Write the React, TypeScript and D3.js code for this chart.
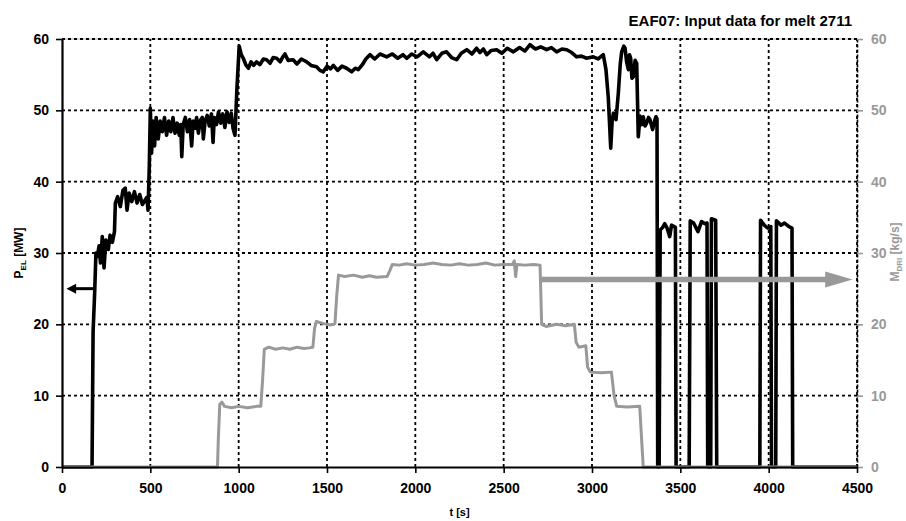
import * as d3 from 'd3';
import React, { useEffect, useRef } from 'react';

// electric power P_EL [MW] over time t [s]
const pelTime = [0, 170, 176, 185, 192, 200, 210, 218, 228, 238, 248, 262, 272, 285, 297, 302, 315, 330, 345, 358, 368, 380, 395, 410, 425, 440, 455, 470, 480, 487, 494,
  500, 507, 515, 524, 533, 545, 556, 568, 580, 592, 604, 616, 628, 640, 652, 664, 672, 678, 686, 698, 710, 722, 734, 742, 752, 762, 772, 784, 794, 800, 810, 822, 834, 846, 855, 862, 874, 886, 898, 910, 922, 934, 946, 958, 968, 979, 985, 990,
  1003, 1015, 1026, 1040, 1055, 1070, 1085, 1101, 1120, 1140, 1158, 1178, 1195, 1215, 1235, 1250, 1262, 1280, 1308, 1330, 1355, 1385, 1410, 1441, 1460, 1479, 1500, 1520, 1536, 1560, 1585, 1611, 1640, 1660, 1677, 1700, 1720, 1743, 1770, 1800, 1838, 1870, 1900, 1930, 1951, 1980,
  2010, 2045, 2080, 2100, 2121, 2150, 2177, 2205, 2234, 2260, 2291, 2320, 2347, 2366, 2385, 2404, 2430, 2460, 2490, 2520, 2555, 2590, 2620, 2649, 2680, 2710, 2743, 2770, 2800, 2830, 2857, 2885, 2913, 2940, 2970,
  3007, 3035, 3064, 3079, 3092, 3106, 3114, 3121, 3136, 3149, 3160, 3168, 3180, 3187, 3196, 3206, 3212, 3219, 3226, 3234, 3244, 3253, 3262, 3272, 3282, 3290, 3300, 3309, 3320, 3328, 3343, 3355, 3362, 3368,
  3372, 3380, 3386, 3400, 3412, 3425, 3440, 3450, 3465, 3472, 3476, 3550, 3556, 3575, 3600, 3620, 3640, 3651, 3655, 3672, 3676, 3700, 3706,
  3950, 3954, 3975, 3995, 4012, 4016, 4040, 4044, 4070, 4090, 4115, 4132, 4136, 4500];
const pelValue = [0, 0, 19, 24.5, 30, 29.5, 31, 28.6, 32.3, 27.9, 31.8, 30.5, 32.5, 31.5, 33, 37, 37.9, 36.5, 38.8, 39.1, 36, 38.4, 37.2, 38.6, 37, 38.2, 36.8, 37.4, 37.8, 36, 42,
  50.3, 44, 48.5, 45, 49, 46, 48.5, 47, 49, 46.5, 48.5, 47, 49, 46.8, 48.2, 46.5, 48, 43.5, 48, 49, 47, 48.7, 45, 48.5, 47.5, 49, 46.8, 48.6, 49, 46, 48.5, 49.3, 47.8, 49.5, 45.5, 49, 48, 49.8, 48.2, 49.5, 47.6, 49.8, 48.3, 49.6, 47.5, 46.5, 50, 53,
  59, 57.8, 57.3, 56.4, 55.9, 56.8, 56.3, 56.8, 56.4, 57.2, 57.1, 56.6, 57.4, 57.3, 56.8, 57.5, 57.9, 57, 57.1, 56.5, 57.2, 56.8, 56.3, 56.1, 55.6, 55.4, 56.2, 55.8, 56.3, 55.6, 56.2, 55.9, 55.4, 55.9, 55.7, 56.4, 57.2, 57.8, 57.2, 57.9, 57.5, 57.9, 57.3, 57.8, 57.3, 57.9,
  57.5, 58.2, 57.5, 58, 57.1, 58, 58.2, 57.4, 57.1, 58, 58.5, 57.9, 58.7, 58.1, 58.6, 57.8, 58.4, 58.5, 58, 58.7, 58.2, 58.8, 58.3, 59.2, 58.6, 58.9, 58.5, 58.8, 58.2, 58.6, 58.5, 58.1, 57.5, 57.6, 57.3,
  57.5, 57.2, 57.8, 55.7, 51.9, 44.7, 48.5, 49.6, 48.7, 52.4, 56.5, 58.2, 59, 58.7, 56.8, 55.7, 57.8, 57.3, 54.5, 54.7, 57, 56.6, 46.3, 49.2, 48, 49.1, 47.8, 48.2, 49, 48.7, 47.3, 48.6, 49.1, 48.8,
  0, 0, 33.2, 33.6, 34.1, 33.5, 32.3, 33.9, 33.7, 33.6, 0, 0, 34.5, 34.2, 33, 34.4, 34.1, 34.2, 0, 0, 34.8, 34.6, 0,
  0, 34.6, 33.9, 33.5, 33.7, 0, 0, 34.5, 33.9, 34.2, 33.7, 33.5, 0, 0];

// DRI feed rate M_DRI [kg/s] over time t [s]
const driTime = [0, 880, 885, 893, 905, 920, 960, 1000, 1050, 1100, 1125, 1135, 1145, 1170, 1210, 1250, 1290, 1330, 1370, 1400, 1420, 1430, 1440, 1480, 1520, 1545, 1555, 1565, 1600, 1650, 1700, 1740, 1780, 1840, 1855, 1870,
  1910, 1950, 2000, 2050, 2100, 2150, 2200, 2250, 2300, 2350, 2400, 2450, 2500, 2550, 2560, 2568, 2575, 2620, 2670, 2706, 2715, 2740, 2800, 2850, 2900, 2910, 2925, 2965, 2975, 2990, 3050, 3110, 3125, 3140, 3200, 3270, 3290, 4500];
const driValue = [0, 0, 4, 8.8, 9.1, 8.5, 8.3, 8.5, 8.3, 8.5, 8.5, 12, 16.5, 16.8, 16.5, 16.7, 16.5, 16.8, 16.6, 16.7, 16.8, 19.5, 20.4, 20.1, 19.9, 20.1, 24, 26.9, 26.7, 26.9, 26.6, 26.8, 26.6, 26.7, 27.5, 28.4,
  28.3, 28.5, 28.3, 28.4, 28.6, 28.4, 28.3, 28.5, 28.3, 28.4, 28.6, 28.3, 28.4, 28.4, 28.9, 26.7, 28.4, 28.3, 28.4, 28.3, 20, 19.7, 20, 19.8, 20, 17.5, 16.8, 17, 14, 13.3, 13.2, 13.3, 10, 8.5, 8.4, 8.5, 0, 0];

const xTicks = [0, 500, 1000, 1500, 2000, 2500, 3000, 3500, 4000, 4500];
const yTicks = [0, 10, 20, 30, 40, 50, 60];

const titleText = 'EAF07: Input data for melt 2711';
const FONT = '"Liberation Sans", Arial, sans-serif';
const GREY = '#999999';

export default function App() {
  const ref = useRef(null);

  useEffect(() => {
    const svg = d3.select(ref.current);
    svg.selectAll('*').remove();

    const x = d3.scaleLinear().domain([0, 4500]).range([62, 857]);
    const yL = d3.scaleLinear().domain([0, 60]).range([467, 39]);
    const yR = d3.scaleLinear().domain([0, 60]).range([467, 39]);

    // grid
    const grid = svg.append('g');
    grid.append('line')
      .attr('x1', x(0)).attr('x2', x(4500)).attr('y1', yL(60)).attr('y2', yL(60))
      .attr('stroke', '#aaa').attr('stroke-width', 1);
    grid.selectAll('.hg').data(yTicks.filter(d => d > 0)).enter().append('line')
      .attr('x1', x(0)).attr('x2', x(4500))
      .attr('y1', d => yL(d)).attr('y2', d => yL(d))
      .attr('stroke', '#000').attr('stroke-width', 1.8).attr('stroke-dasharray', '3,3');
    grid.selectAll('.vg').data(xTicks.filter(d => d > 0)).enter().append('line')
      .attr('x1', d => x(d)).attr('x2', d => x(d))
      .attr('y1', yL(0)).attr('y2', yL(60))
      .attr('stroke', '#000').attr('stroke-width', 1.8).attr('stroke-dasharray', '3,3');

    const pel = pelTime.map((t, i) => [t, pelValue[i]]);
    const dri = driTime.map((t, i) => [t, driValue[i]]);

    svg.append('path')
      .datum(pel)
      .attr('fill', 'none').attr('stroke', '#000').attr('stroke-width', 3.6).attr('stroke-linejoin', 'round')
      .attr('d', d3.line().x(d => x(d[0])).y(d => yL(d[1])));

    svg.append('path')
      .datum(dri)
      .attr('fill', 'none').attr('stroke', GREY).attr('stroke-width', 3).attr('stroke-linejoin', 'round')
      .attr('d', d3.line().x(d => x(d[0])).y(d => yR(d[1])));

    // arrows pointing to the axis each curve belongs to
    const blackArrowY = yL(25);
    svg.append('line')
      .attr('x1', x(190)).attr('x2', x(50)).attr('y1', blackArrowY).attr('y2', blackArrowY)
      .attr('stroke', '#000').attr('stroke-width', 3);
    svg.append('path')
      .attr('d', `M${x(25)},${blackArrowY} L${x(80)},${blackArrowY - 5} L${x(80)},${blackArrowY + 5} Z`)
      .attr('fill', '#000');

    const greyArrowY = yR(26.3);
    svg.append('line')
      .attr('x1', x(2713)).attr('x2', x(4400)).attr('y1', greyArrowY).attr('y2', greyArrowY)
      .attr('stroke', GREY).attr('stroke-width', 5.5);
    svg.append('path')
      .attr('d', `M${x(4475)},${greyArrowY} L${x(4320)},${greyArrowY - 8} L${x(4320)},${greyArrowY + 8} Z`)
      .attr('fill', GREY);

    // axes
    const left = svg.append('g')
      .attr('transform', `translate(${x(0)},0)`)
      .call(d3.axisLeft(yL).tickValues(yTicks).tickSize(6).tickPadding(7).tickSizeOuter(0));
    left.select('.domain').attr('stroke-width', 2.2);
    left.selectAll('.tick line').attr('stroke-width', 1.6);
    left.selectAll('.tick text').attr('font-family', FONT).attr('font-size', 14).attr('font-weight', 'bold').attr('fill', '#000');

    const right = svg.append('g')
      .attr('transform', `translate(${x(4500)},0)`)
      .call(d3.axisRight(yR).tickValues(yTicks).tickSize(6).tickPadding(8).tickSizeOuter(0));
    right.select('.domain').attr('stroke', '#000').attr('stroke-width', 1.6).attr('stroke-dasharray', '3,2');
    right.selectAll('.tick line').attr('stroke', GREY).attr('stroke-width', 1.6);
    right.selectAll('.tick text').attr('font-family', FONT).attr('font-size', 14).attr('font-weight', 'bold').attr('fill', GREY);

    const bottom = svg.append('g')
      .attr('transform', `translate(0,${yL(0)})`)
      .call(d3.axisBottom(x).tickValues(xTicks).tickFormat(d3.format('d')).tickSize(6).tickPadding(10).tickSizeOuter(0));
    bottom.select('.domain').attr('stroke-width', 2);
    bottom.selectAll('.tick line').attr('stroke-width', 1.6);
    bottom.selectAll('.tick text').attr('font-family', FONT).attr('font-size', 14).attr('font-weight', 'bold').attr('fill', '#000');

    // title and axis labels
    svg.append('text')
      .attr('x', 852).attr('y', 26).attr('text-anchor', 'end')
      .attr('font-family', FONT).attr('font-size', 15).attr('font-weight', 'bold')
      .text(titleText);

    svg.append('text')
      .attr('x', (x(0) + x(4500)) / 2).attr('y', 516).attr('text-anchor', 'middle')
      .attr('font-family', FONT).attr('font-size', 11).attr('font-weight', 'bold')
      .text('t [s]');

    const ylab = svg.append('text')
      .attr('transform', 'translate(23,253) rotate(-90)').attr('text-anchor', 'middle')
      .attr('font-family', FONT).attr('font-size', 12).attr('font-weight', 'bold').attr('fill', '#000');
    ylab.append('tspan').text('P');
    ylab.append('tspan').attr('font-size', 8).attr('dy', 3).text('EL');
    ylab.append('tspan').attr('dy', -3).text(' [MW]');

    const rlab = svg.append('text')
      .attr('transform', 'translate(899,252) rotate(-90)').attr('text-anchor', 'middle')
      .attr('font-family', FONT).attr('font-size', 12).attr('font-weight', 'bold').attr('fill', GREY);
    rlab.append('tspan').text('M');
    rlab.append('tspan').attr('font-size', 8).attr('dy', 3).text('DRI');
    rlab.append('tspan').attr('dy', -3).text(' [kg/s]');
  }, []);

  return (
    <svg ref={ref} width={906} height={521}
      style={{ position: 'absolute', left: 0, top: 0, background: '#fff' }} />
  );
}
